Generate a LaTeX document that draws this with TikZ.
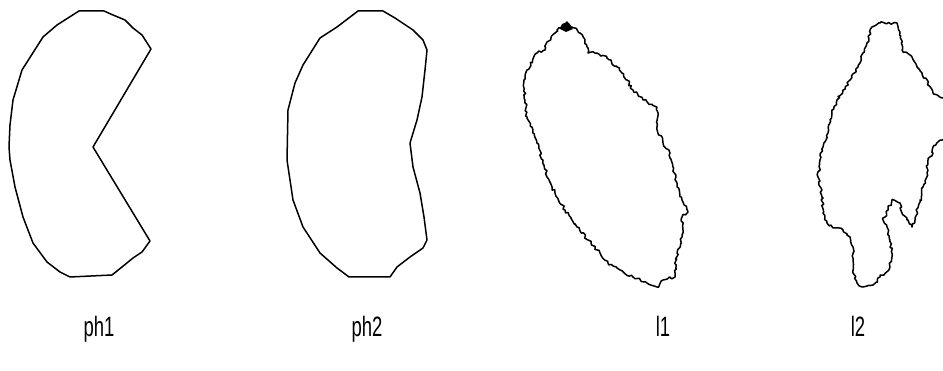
\documentclass[tikz,border=0pt]{standalone}
\usepackage{fontspec}
\setmainfont{Liberation Sans}
\usetikzlibrary{decorations.pathmorphing}
\begin{document}
\begin{tikzpicture}[x=1pt,y=-1pt,
  outline/.style={draw=black,line width=1.5pt,line join=round},
  rough/.style={outline,decorate,decoration={random steps,segment length=2.4pt,amplitude=1.4pt}},
  lbl/.style={font=\fontsize{28}{28}\selectfont,xscale=0.66,inner sep=0pt,anchor=base}]
\pgfmathsetseed{7}
\useasboundingbox (0,0) rectangle (943,371);
\clip (0,0) rectangle (943,371);
% ph1
\draw[outline] (79,11) -- (104,11) -- (113,15) -- (125,20) -- (133,28) -- (142,35) -- (151,49)
  -- (93,147) -- (150,241) -- (142,252) -- (133,258) -- (122,267) -- (112,275) -- (70,277)
  -- (60,272) -- (47,262) -- (33,243) -- (23,217) -- (15,187) -- (10,160) -- (9,147) -- (10,125) -- (13,100)
  -- (22,70) -- (43,37) -- (57,25) -- cycle;
% ph2
\draw[outline] (358,11) -- (383,11) -- (395,18) -- (413,30) -- (423,40) -- (427,50) -- (425,70)
  -- (422,97) -- (417,120) -- (410,143) -- (413,167) -- (420,193) -- (424,217) -- (427,240)
  -- (423,248) -- (410,257) -- (397,267) -- (390,277) -- (349,277) -- (337,268) -- (320,253)
  -- (303,227) -- (293,200) -- (287,160) -- (288,110) -- (295,83) -- (303,65) -- (320,38)
  -- (337,27) -- cycle;
% l1
\draw[rough] (567,23) -- (580,33) -- (585,40) -- (588,53) -- (597,53) -- (607,58) -- (617,67)
  -- (627,80) -- (633,90) -- (643,100) -- (657,107) -- (658,113) -- (657,127) -- (663,143)
  -- (670,153) -- (673,167) -- (677,187) -- (682,200) -- (688,212) -- (682,217) -- (682,237)
  -- (677,253) -- (675,277) -- (663,280) -- (657,287) -- (647,283) -- (633,277) -- (620,270)
  -- (608,263) -- (600,253) -- (588,240) -- (577,227) -- (565,210) -- (555,193) -- (547,177)
  -- (543,160) -- (537,143) -- (532,127) -- (527,117) -- (525,100) -- (524,80) -- (527,70)
  -- (537,53) -- (545,50) -- (547,42) -- (555,33) -- (557,30) -- cycle;
\fill (560,29) -- (567,21) -- (573,29) -- (566,32) -- cycle;
% l2
\draw[rough] (872,27) -- (880,23) -- (897,23) -- (900,32) -- (902,50) -- (910,55) -- (917,67)
  -- (922,73) -- (928,83) -- (933,93) -- (942,98) -- (955,100) -- (955,138) -- (942,140)
  -- (933,147) -- (933,153) -- (928,160) -- (927,173) -- (923,187) -- (920,200) -- (915,220)
  -- (912,227) -- (907,220) -- (902,213) -- (900,203) -- (892,200) -- (888,210) -- (885,217)
  -- (883,220) -- (887,227) -- (890,240) -- (892,257) -- (890,267) -- (880,277) -- (873,285)
  -- (863,287) -- (857,283) -- (853,273) -- (853,260) -- (853,247) -- (850,237) -- (843,230)
  -- (833,228) -- (827,223) -- (823,213) -- (822,197) -- (818,177) -- (820,160) -- (823,147)
  -- (828,133) -- (832,113) -- (837,100) -- (843,90) -- (850,80) -- (858,67) -- (863,53)
  -- (867,43) -- cycle;
% labels
\node[lbl] (t1) at (99,337) {ph1};
\node[lbl] (t2) at (367,337) {ph2};
\node[lbl] (t3) at (663,337) {l1};
\node[lbl] (t4) at (858,337) {l2};
\end{tikzpicture}
\end{document}
